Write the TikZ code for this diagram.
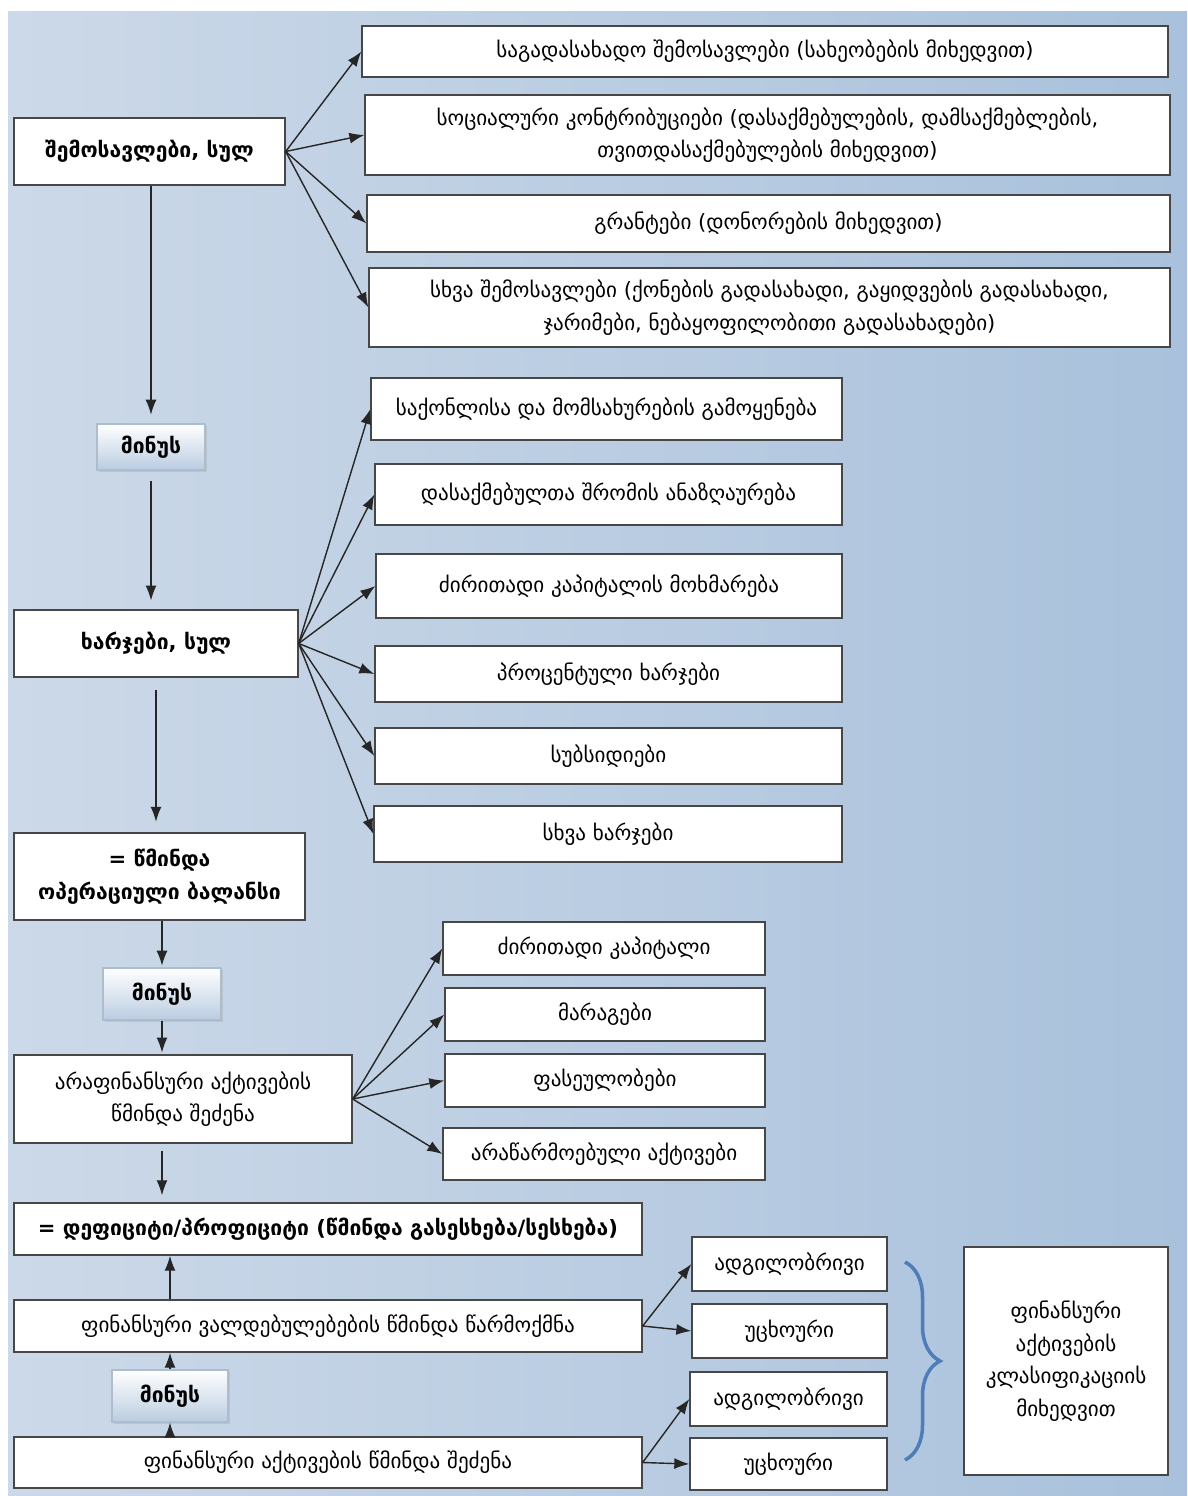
\documentclass[tikz,border=0pt]{standalone}
\usepackage{fontspec}
\setmainfont{DejaVu Sans}
\usetikzlibrary{arrows.meta,shadows,decorations.pathreplacing}
\definecolor{bgedge}{HTML}{A9C1DC}
\definecolor{bgleft}{HTML}{CCD9E8}
\definecolor{bgmid}{HTML}{DDE6F0}
\definecolor{minusbot}{HTML}{BACCE1}
\definecolor{bracecol}{HTML}{4F7DB8}
\begin{document}
\begin{tikzpicture}[x=0.02cm, y=-0.02cm, >={Latex[length=3mm,width=2.2mm]}, font=\fontsize{12}{18.5}\selectfont,
      item/.style={draw=black!72, fill=white, line width=0.8pt, align=center, inner sep=2pt},
      total/.style={item, font=\fontsize{12}{18.5}\selectfont\bfseries},
      minus/.style={draw=minusbot!80!gray, top color=white, bottom color=minusbot, line width=0.6pt,
        minimum width=2.2cm, minimum height=1cm, font=\fontsize{12}{18.5}\selectfont\bfseries,
        drop shadow={shadow xshift=1.2pt, shadow yshift=-1.2pt, fill=gray!60, opacity=0.5}},
      flow/.style={->, line width=0.8pt, black!85},
      brace/.style={decorate, decoration={brace, amplitude=0.7cm, aspect=0.5}, line width=2pt, bracecol}]
    \useasboundingbox (0,0) rectangle (1187,1496);
    \fill[left color=bgleft, middle color=bgmid, right color=bgedge] (8,12) rectangle (1187,1496);
    % left column
    \node[total, minimum width=5.42cm, minimum height=1.34cm] (rev) at (149.5,151.5) {შემოსავლები, სულ};
    \node[minus, minimum width=2.16cm, minimum height=0.92cm] (minusA) at (151,447) {მინუს};
    \node[total, minimum width=5.68cm, minimum height=1.34cm] (exp) at (156,643.5) {ხარჯები, სულ};
    \node[total, minimum width=5.82cm, minimum height=1.74cm] (nob) at (159.5,876.5) {= წმინდა\\ოპერაციული ბალანსი};
    \node[minus, minimum width=2.36cm, minimum height=1.04cm] (minusB) at (162,994) {მინუს};
    \node[item, minimum width=6.76cm, minimum height=1.76cm] (nfa) at (183,1099) {არაფინანსური აქტივების\\წმინდა შეძენა};
    \node[total, minimum width=12.56cm, minimum height=1.04cm] (def) at (328,1229) {= დეფიციტი/პროფიციტი (წმინდა გასესხება/სესხება)};
    \node[item, minimum width=12.56cm, minimum height=1.04cm] (liab) at (328,1326) {ფინანსური ვალდებულებების წმინდა წარმოქმნა};
    \node[minus, minimum width=2.32cm, minimum height=1.04cm] (minusC) at (170,1396) {მინუს};
    \node[item, minimum width=12.56cm, minimum height=1.02cm] (fa) at (328,1462.5) {ფინანსური აქტივების წმინდა შეძენა};
    % revenue items
    \node[item, minimum width=16.12cm, minimum height=1.02cm] (tax) at (765,51.5) {საგადასახადო შემოსავლები (სახეობების მიხედვით)};
    \node[item, minimum width=16.10cm, minimum height=1.60cm] (soc) at (767.5,135) {სოციალური კონტრიბუციები (დასაქმებულების, დამსაქმებლების,\\თვითდასაქმებულების მიხედვით)};
    \node[item, minimum width=16.06cm, minimum height=1.14cm] (grant) at (768.5,223.5) {გრანტები (დონორების მიხედვით)};
    \node[item, minimum width=16.02cm, minimum height=1.58cm] (orev) at (769.5,307.5) {სხვა შემოსავლები (ქონების გადასახადი, გაყიდვების გადასახადი,\\ჯარიმები, ნებაყოფილობითი გადასახადები)};
    % expense items
    \node[item, minimum width=9.42cm, minimum height=1.24cm] (goods) at (606.5,409) {საქონლისა და მომსახურების გამოყენება};
    \node[item, minimum width=9.34cm, minimum height=1.22cm] (wage) at (608.5,494.5) {დასაქმებულთა შრომის ანაზღაურება};
    \node[item, minimum width=9.32cm, minimum height=1.28cm] (cfc) at (609,586) {ძირითადი კაპიტალის მოხმარება};
    \node[item, minimum width=9.34cm, minimum height=1.12cm] (intr) at (608.5,674) {პროცენტული ხარჯები};
    \node[item, minimum width=9.34cm, minimum height=1.12cm] (subs) at (608.5,756) {სუბსიდიები};
    \node[item, minimum width=9.36cm, minimum height=1.12cm] (oexp) at (608,834) {სხვა ხარჯები};
    % nonfinancial assets
    \node[item, minimum width=6.44cm, minimum height=1.06cm] (fixc) at (604,948.5) {ძირითადი კაპიტალი};
    \node[item, minimum width=6.40cm, minimum height=1.06cm] (inv) at (605,1014.5) {მარაგები};
    \node[item, minimum width=6.40cm, minimum height=1.06cm] (valu) at (605,1080.5) {ფასეულობები};
    \node[item, minimum width=6.44cm, minimum height=1.04cm] (npa) at (604,1154) {არაწარმოებული აქტივები};
    % domestic / foreign
    \node[item, minimum width=3.90cm, minimum height=1.08cm] (liabD) at (789.5,1264) {ადგილობრივი};
    \node[item, minimum width=3.90cm, minimum height=1.08cm] (liabF) at (789.5,1331) {უცხოური};
    \node[item, minimum width=3.94cm, minimum height=1.08cm] (faD) at (788.5,1399) {ადგილობრივი};
    \node[item, minimum width=3.94cm, minimum height=1.04cm] (faF) at (788.5,1464) {უცხოური};
    \node[item, minimum width=4.08cm, minimum height=4.56cm] (class) at (1066,1361) {ფინანსური\\აქტივების\\კლასიფიკაციის\\მიხედვით};
    \coordinate (brtop) at (905,1262);
    \coordinate (brbot) at (905,1460);
    \draw[brace] (brtop) -- (brbot);
    % fans
    \foreach \t in {tax,soc,grant,orev} \draw[flow] (rev.east) -- (\t.west);
    \foreach \t in {goods,wage,cfc,intr,subs,oexp} \draw[flow] (exp.east) -- (\t.west);
    \foreach \t in {fixc,inv,valu,npa} \draw[flow] (nfa.east) -- (\t.west);
    \foreach \t in {liabD,liabF} \draw[flow] (liab.east) -- (\t.west);
    \foreach \t in {faD,faF} \draw[flow] (fa.east) -- (\t.west);
    % main chain
    \draw[flow, shorten >=5pt] (rev.south -| minusA) -- (minusA);
    \draw[flow, shorten <=6pt, shorten >=5pt] (minusA.south) -- (minusA.south |- exp.north);
    \draw[flow, shorten <=7pt, shorten >=6pt] (exp.south) -- (exp.south |- nob.north);
    \draw[flow, shorten >=1pt] (nob.south -| minusB) -- (minusB);
    \draw[flow, shorten >=1pt] (minusB.south) -- (minusB.south |- nfa.north);
    \draw[flow, shorten <=4pt, shorten >=4pt] (nfa.south -| minusB) -- (minusB.south |- def.north);
    \draw[flow] (liab.north -| minusC) -- (minusC.north |- def.south);
    \draw[flow] (minusC.north) -- (minusC.north |- liab.south);
    \draw[flow] (fa.north -| minusC) -- (minusC.south);
  \end{tikzpicture}
\end{document}
